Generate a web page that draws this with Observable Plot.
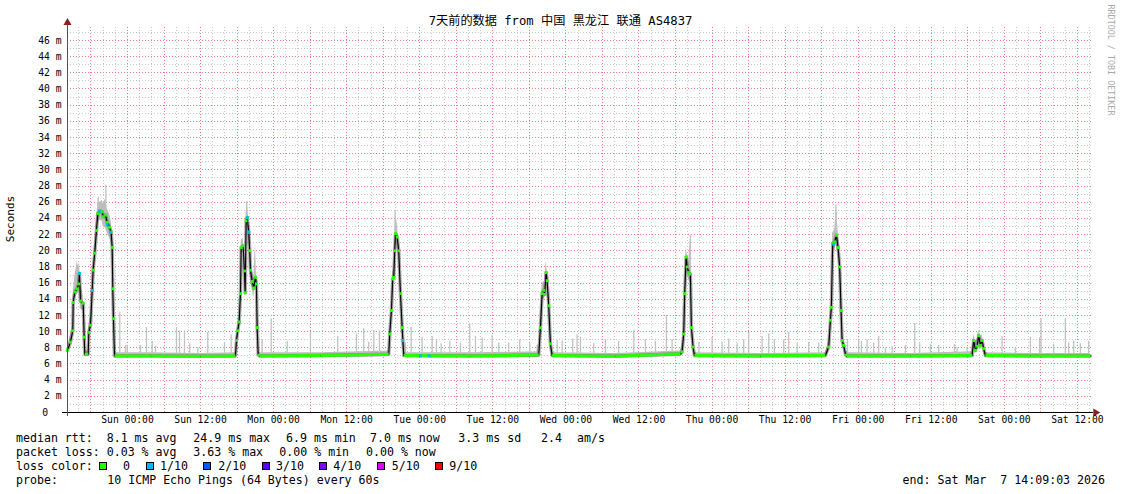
<!DOCTYPE html>
<html>
<head>
<meta charset="utf-8">
<script src="https://cdn.jsdelivr.net/npm/d3@7"></script>
<script src="https://cdn.jsdelivr.net/npm/@observablehq/plot@0.6"></script>
<style>
  body { margin: 0; background: #fff; }
  #wrap { position: relative; width: 1121px; height: 494px; overflow: hidden; background: #fff;
          font-family: "DejaVu Sans Mono", "Noto Sans CJK SC", monospace; color: #000; }
  #wrap svg { position: absolute; left: 0; top: 0; }
  .t { position: absolute; white-space: pre; line-height: 14px; }
  .leg { font-size: 11.6px; }
  .sq { position: absolute; width: 6px; height: 6px; border: 1px solid #000; }
</style>
</head>
<body>
<div id="wrap"></div>
<script>
// ---------------- data ----------------
const titleText = "7天前的数据 from 中国 黑龙江 联通 AS4837";
const yAxisTitle = "Seconds";
const watermark = "RRDTOOL / TOBI OETIKER";

// hours since start (Sat Feb 28 14:09:03 2026) of the x-axis labels, and the labels
const xTickHours = [9.849, 21.849, 33.849, 45.849, 57.849, 69.849, 81.849, 93.849, 105.849, 117.849, 129.849, 141.849, 153.849, 165.849];
const xTickLabels = ["Sun 00:00", "Sun 12:00", "Mon 00:00", "Mon 12:00", "Tue 00:00", "Tue 12:00", "Wed 00:00", "Wed 12:00", "Thu 00:00", "Thu 12:00", "Fri 00:00", "Fri 12:00", "Sat 00:00", "Sat 12:00"];
const yTickMs = [0, 2, 4, 6, 8, 10, 12, 14, 16, 18, 20, 22, 24, 26, 28, 30, 32, 34, 36, 38, 40, 42, 44, 46];

// median rtt (ms) with smoke extent, at hours since start
const rttHours = [
  0, 0.49, 0.87, 0.94, 1.20, 1.59, 1.86, 1.97, 2.13, 2.58, 2.74, 2.84, 3.40, 3.50, 3.78, 4.06, 4.22, 4.48, 4.76, 4.98, 5.30, 5.70, 5.86, 6.24, 6.52, 6.90, 7.18, 7.34, 7.44, 7.55, 7.72,
  13.63, 21.84,
  27.59, 27.75, 27.96, 28.19, 28.41, 28.52, 28.85, 29.06, 29.18, 29.34, 29.51, 29.77, 29.93, 30.05, 30.33, 30.59, 30.87, 31.03, 31.15, 31.31, 31.53,
  41.54,
  52.76, 52.92, 53.20, 53.41, 53.58, 53.74, 53.86, 54.14, 54.40, 54.68, 54.96, 55.22,
  66.17,
  77.39, 77.67, 77.95, 78.21, 78.37, 78.60, 78.77, 79.03, 79.31, 79.59,
  89.98,
  100.66, 100.94, 101.20, 101.36, 101.59, 101.76, 102.02, 102.30, 102.46, 102.74, 102.96,
  113.79,
  124.47, 125.01, 125.29, 125.45, 125.66, 125.99, 126.27, 126.55, 126.81, 127.04, 127.21, 127.47, 127.75, 127.99,
  138.42,
  148.56, 148.82, 149.10, 149.38, 149.64, 149.92, 150.20, 150.46, 150.74,
  158.13, 168
];
const medianMs = [
  7.7, 8.7, 10.1, 13.6, 14.9, 15.3, 15.9, 17.2, 13.8, 13.5, 9.3, 7.2, 7.2, 9.9, 10.8, 15.1, 17.6, 19.7, 22.5, 24.6, 24.9, 24.8, 24.2, 24.4, 23.5, 22.9, 22.3, 20.4, 15.3, 11.6, 7.0,
  7.0, 6.95,
  7.0, 8.9, 10.1, 11.2, 14.7, 20.4, 20.6, 17.5, 14.8, 23.7, 24.1, 22.3, 20.0, 17.6, 16.2, 15.4, 16.7, 15.9, 10.5, 7.2, 7.0,
  7.05,
  7.2, 9.7, 12.6, 16.5, 16.7, 20.0, 22.1, 21.7, 20.0, 14.7, 10.5, 7.05,
  7.0,
  7.1, 10.5, 14.7, 15.1, 14.6, 17.3, 16.3, 13.2, 8.5, 7.05,
  6.95,
  7.25, 7.5, 9.7, 14.7, 19.2, 18.0, 17.3, 17.1, 10.5, 8.1, 7.05,
  7.0,
  7.05, 8.1, 11.4, 13.0, 20.9, 21.1, 21.9, 20.4, 18.0, 12.6, 8.9, 8.3, 7.25, 7.0,
  7.0,
  7.05, 8.9, 7.7, 8.2, 9.5, 8.3, 8.9, 7.9, 7.05,
  7.0, 7.0
];
const smokeMaxMs = [
  8.0, 9.6, 10.8, 14.8, 16.8, 18.6, 18.0, 18.8, 16.0, 14.5, 10.2, 7.6, 7.6, 10.8, 11.8, 16.2, 18.4, 21.0, 23.8, 25.8, 26.0, 26.2, 25.8, 26.4, 25.2, 24.6, 23.6, 22.0, 18.2, 12.4, 7.4,
  7.4, 7.3,
  7.4, 9.4, 10.8, 11.8, 15.6, 21.2, 21.6, 19.4, 16.0, 24.8, 26.0, 23.8, 21.4, 19.0, 17.6, 16.6, 21.0, 17.0, 11.4, 7.6, 7.4,
  7.4,
  7.6, 10.4, 13.4, 17.4, 17.6, 21.6, 24.8, 23.4, 21.2, 15.8, 11.4, 7.4,
  7.4,
  7.5, 11.2, 15.8, 16.2, 16.0, 18.8, 17.6, 14.4, 9.4, 7.4,
  7.3,
  7.6, 8.4, 10.6, 15.8, 20.4, 19.6, 18.6, 21.6, 11.6, 8.8, 7.4,
  7.3,
  7.4, 8.8, 12.2, 14.0, 22.2, 22.6, 25.6, 22.4, 19.6, 13.6, 9.6, 9.0, 7.6, 7.4,
  7.3,
  7.5, 9.6, 8.8, 9.0, 10.2, 9.4, 9.6, 8.6, 7.4,
  7.3, 7.3
];
const smokeMinMs = [
  7.2, 8.3, 9.5, 12.8, 14.2, 14.6, 14.8, 15.8, 12.8, 12.6, 8.6, 6.9, 6.9, 9.4, 10.2, 14.2, 16.8, 18.8, 21.4, 23.4, 23.8, 23.6, 23.0, 22.8, 22.2, 21.6, 21.0, 19.4, 14.2, 10.8, 6.8,
  6.8, 6.8,
  6.8, 8.4, 9.6, 10.6, 14.0, 19.6, 19.8, 16.6, 14.0, 22.6, 23.2, 21.0, 19.0, 16.6, 15.2, 14.2, 15.8, 14.8, 9.8, 6.9, 6.8,
  6.8,
  6.9, 9.2, 12.0, 15.8, 15.9, 19.2, 21.0, 20.6, 19.0, 13.8, 9.8, 6.8,
  6.8,
  6.8, 9.8, 13.8, 14.2, 13.8, 16.4, 15.4, 12.4, 7.9, 6.8,
  6.8,
  6.9, 7.1, 9.0, 13.6, 18.0, 17.0, 16.4, 16.0, 9.6, 7.6, 6.8,
  6.8,
  6.8, 7.6, 10.6, 12.2, 19.8, 20.0, 20.8, 19.4, 17.0, 11.8, 8.2, 7.8, 6.9, 6.8,
  6.8,
  6.8, 8.2, 7.2, 7.6, 8.6, 7.8, 8.2, 7.4, 6.8,
  6.8, 6.8
];

// isolated high pings (light smoke spikes) rising from the baseline
const baselineMs = 7.0;
const spikeHours = [8.59, 9.52, 9.80, 11.99, 12.97, 13.91, 14.45, 17.90, 18.39, 19.21, 20.08, 21.40, 23.04, 25.78, 26.88,
  31.97, 33.45, 36.08, 39.90, 44.38, 47.45, 48.65, 49.47, 50.30, 51.23,
  55.50, 56.44, 58.24, 59.89, 60.59, 61.36, 62.78, 64.53, 66.06, 67.00, 68.10, 69.74, 70.82, 72.46, 74.27, 75.91, 77.13,
  80.41, 81.23, 82.97, 83.69, 84.24, 86.42, 88.34, 90.50, 93.00, 94.91, 96.55, 98.36, 99.29,
  103.70, 105.86, 107.50, 108.59, 109.97, 111.05, 111.87, 114.07, 115.16, 116.09, 117.62, 118.44, 119.82, 121.72, 123.37,
  128.10, 129.93, 130.38, 131.31, 132.40, 133.22, 134.32, 135.42, 137.60, 139.13, 139.95, 141.71, 143.07, 145.65, 146.09, 147.73,
  153.48, 155.67, 158.13, 159.65, 159.88, 161.95, 163.87, 164.42, 165.24, 166.34, 167.70];
const spikeTopMs = [12.4, 8.3, 8.3, 8.3, 10.5, 8.8, 8.2, 10.4, 10.1, 10.1, 8.5, 8.0, 9.9, 8.6, 9.6,
  9.0, 11.6, 8.8, 9.9, 9.4, 9.7, 10.4, 8.7, 10.1, 10.1,
  8.6, 10.5, 9.3, 9.4, 9.0, 8.5, 8.8, 8.6, 11.0, 9.4, 9.2, 9.5, 8.6, 8.6, 9.0, 8.5, 8.3,
  8.9, 8.8, 9.1, 9.6, 9.3, 8.5, 9.0, 8.8, 10.2, 9.0, 8.8, 12.0, 9.0,
  8.7, 9.3, 8.7, 9.1, 8.5, 9.0, 9.9, 9.4, 9.7, 9.0, 9.0, 9.9, 8.5, 8.7, 8.6,
  9.0, 9.1, 8.8, 9.0, 8.6, 9.4, 8.0, 8.2, 8.3, 11.0, 8.5, 8.4, 8.3, 8.4, 8.0, 8.1,
  9.4, 8.0, 9.3, 9.2, 11.6, 8.4, 11.6, 8.6, 8.8, 8.5, 8.8];

// high pings on top of the peaks
const peakSpikeHours = [5.05, 6.30, 29.45, 53.80, 102.30, 126.20];
const peakSpikeBaseMs = [24.5, 24.0, 23.5, 21.0, 17.0, 21.0];
const peakSpikeTopMs = [26.6, 28.1, 26.1, 24.9, 21.9, 25.7];

// samples with 1/10 packet loss
const lossOneHours = [1.97, 4.06, 5.30, 6.52, 7.06, 29.51, 29.77, 55.05, 58.00, 59.40, 125.83];
const lossOneMs = [17.2, 15.1, 24.9, 23.2, 22.3, 24.1, 22.3, 8.9, 7.0, 7.0, 20.8];

// legend
const rttStatValues = ["8.1", "24.9", "6.9", "7.0", "3.3"];
const rttStatUnits = ["ms avg", "ms max", "ms min", "ms now", "ms sd"];
const rttAmS = "2.4";
const lossStatValues = ["0.03", "3.63", "0.00", "0.00"];
const lossStatUnits = ["% avg", "% max", "% min", "% now"];
const lossLevels = ["0", "1/10", "2/10", "3/10", "4/10", "5/10", "9/10"];
const lossColors = ["#26ff00", "#00b8ff", "#0059ff", "#5e00ff", "#7e00ff", "#dd00ff", "#ff0000"];
const probeText = "10 ICMP Echo Pings (64 Bytes) every 60s";
const endText = "end: Sat Mar  7 14:09:03 2026";

// ---------------- build ----------------
const rows = rttHours.map((h, i) => ({h, med: medianMs[i], hi: smokeMaxMs[i], lo: smokeMinMs[i]}));
const greenSegs = [];
for (let i = 0; i < rows.length - 1; i++) {
  if (rows[i].med < 7.35 && rows[i + 1].med < 7.35)
    greenSegs.push({x1: rows[i].h, y1: rows[i].med, x2: rows[i + 1].h, y2: rows[i + 1].med});
}
const spikes = spikeHours.map((h, i) => ({h, top: spikeTopMs[i]}));
const peakSpikes = peakSpikeHours.map((h, i) => ({h, base: peakSpikeBaseMs[i], top: peakSpikeTopMs[i]}));
const lossOne = lossOneHours.map((h, i) => ({h, v: lossOneMs[i]}));

const minorX = d3.range(1.849, 168, 2).filter((d, i) => i % 3 !== 1);
const majorX = d3.range(3.849, 168, 6);
const minorY = d3.range(1, 48, 2);
const majorY = d3.range(2, 48, 2);

const gridGrey = "#c8c8c8";
const gridRed = "#f08080";
const arrowColor = "#8b2020";
const crisp = {shapeRendering: "crispEdges", strokeDasharray: "1,2"};

const svg = Plot.plot({
  width: 1121,
  height: 430,
  marginLeft: 67,
  marginRight: 31,
  marginTop: 27,
  marginBottom: 18,
  x: {domain: [0, 168], axis: null},
  y: {domain: [0, 47.6], axis: null},
  style: {fontFamily: "DejaVu Sans Mono", fontSize: "9.7px", background: "transparent", color: "#000"},
  marks: [
    Plot.ruleX(minorX, {y1: 0, y2: 47.6, stroke: gridGrey, ...crisp}),
    Plot.ruleY(minorY, {x1: 0, x2: 168.4, stroke: gridGrey, ...crisp}),
    Plot.ruleX(majorX, {y1: 0, y2: 47.6, stroke: gridRed, ...crisp}),
    Plot.ruleY(majorY, {x1: 0, x2: 168.4, stroke: gridRed, ...crisp}),
    // light smoke
    Plot.areaY(rows, {x: "h", y1: "lo", y2: "hi", fill: "#bdbdbd"}),
    Plot.ruleX(spikes, {x: "h", y1: baselineMs, y2: "top", stroke: "#c2c2c2", strokeWidth: 1.3}),
    Plot.ruleX(peakSpikes, {x: "h", y1: "base", y2: "top", stroke: "#c2c2c2", strokeWidth: 1.3}),
    // dark smoke around the median
    Plot.line(rows, {x: "h", y: "med", stroke: "#333", strokeOpacity: 0.4, strokeWidth: 3.5}),
    // median
    Plot.line(rows, {x: "h", y: "med", stroke: "#000", strokeWidth: 1.1}),
    Plot.link(greenSegs, {x1: "x1", y1: "y1", x2: "x2", y2: "y2", stroke: lossColors[0], strokeWidth: 3}),
    Plot.dot(rows.filter(d => d.med >= 7.35), {x: "h", y: "med", symbol: "square", r: 1.6, fill: lossColors[0]}),
    Plot.dot(lossOne, {x: "h", y: "v", symbol: "square", r: 1.6, fill: lossColors[1]}),
    // axes
    Plot.ruleY([0], {x1: -0.8, x2: 168.5, stroke: "#000", shapeRendering: "crispEdges"}),
    Plot.ruleX([0], {y1: -0.5, y2: 47.9, stroke: "#555", shapeRendering: "crispEdges"}),
    Plot.dot([0], {x: 168.85, y: 0, symbol: "triangle", r: 3, fill: arrowColor, stroke: "none", rotate: 90}),
    Plot.dot([0], {x: 0, y: 48.2, symbol: "triangle", r: 3, fill: arrowColor, stroke: "none"}),
    Plot.text(xTickHours, {x: d => d, text: (d, i) => xTickLabels[i], frameAnchor: "bottom", dy: 10, fill: "#000"}),
    Plot.text(yTickMs.filter(d => d > 0), {y: d => d, text: d => `${d} m`, frameAnchor: "left", textAnchor: "end", dx: -6, fill: "#000"}),
    Plot.text(yTickMs.filter(d => d === 0), {y: d => d, text: d => `${d}`, frameAnchor: "left", textAnchor: "end", dx: -19.5, fill: "#000"})
  ]
});

const wrap = document.getElementById("wrap");
wrap.appendChild(svg);

function addText(txt, left, centerY, cls, extra) {
  const el = document.createElement("div");
  el.className = "t " + (cls || "");
  el.textContent = txt;
  el.style.left = left + "px";
  el.style.top = (centerY - 7) + "px";
  if (extra) Object.assign(el.style, extra);
  wrap.appendChild(el);
  return el;
}

// title
addText(titleText, 0, 21, "", {width: "1121px", textAlign: "center", fontSize: "12.2px", left: "0px"});
// y axis title
addText(yAxisTitle, 11 - 30, 219, "", {width: "60px", textAlign: "center", fontSize: "11px", transform: "rotate(-90deg)"});
// watermark
addText(watermark, 1111 - 60, 60, "", {width: "120px", textAlign: "center", fontSize: "8.4px", color: "#aaaaaa", transform: "rotate(90deg)"});

// legend
const row1 = 438, row2 = 452, row3 = 466.3, row4 = 480.3;
addText("median rtt:", 16, row1, "leg");
const rttX = [106.7, 193.3, 286, 370, 458.3];
rttStatValues.forEach((v, i) => addText(v + " " + rttStatUnits[i], rttX[i], row1, "leg"));
addText(rttAmS, 541, row1, "leg");
addText("am/s", 577, row1, "leg");

addText("packet loss:", 16, row2, "leg");
const lossX = [106.7, 193.3, 279.3, 366];
lossStatValues.forEach((v, i) => addText(v + " " + lossStatUnits[i], lossX[i], row2, "leg"));

addText("loss color:", 16, row3, "leg");
const sqX = [99.3, 146, 203.3, 261.7, 319.3, 377.3, 435];
const lblX = [123, 160, 218.3, 276, 333.3, 391.7, 449.3];
lossLevels.forEach((lv, i) => {
  const s = document.createElement("div");
  s.className = "sq";
  s.style.left = sqX[i] + "px";
  s.style.top = (row3 - 4) + "px";
  s.style.background = lossColors[i];
  wrap.appendChild(s);
  addText(lv, lblX[i], row3, "leg");
});

addText("probe:", 16, row4, "leg");
addText(probeText, 107.3, row4, "leg");
addText(endText, 0, 480, "leg", {left: "auto", right: (1121 - 1105) + "px"});
</script>
</body>
</html>
